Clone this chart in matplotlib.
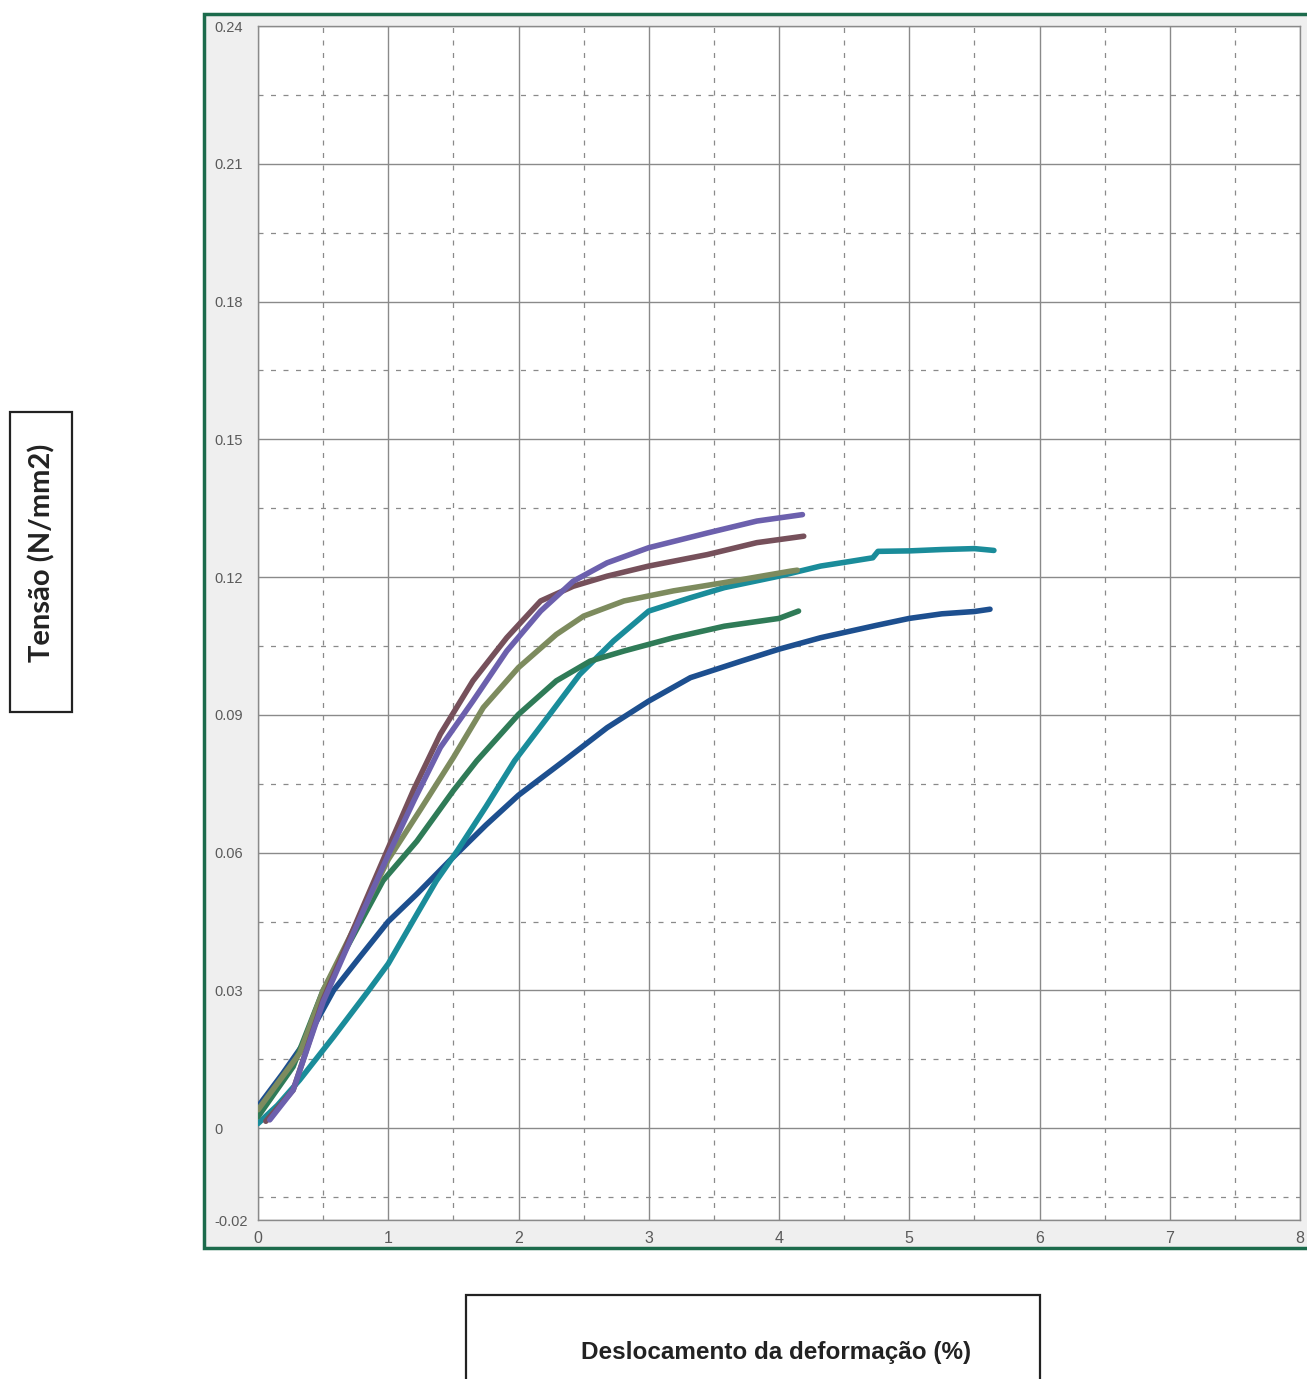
import matplotlib.pyplot as plt
from matplotlib.patches import Rectangle

# deslocamento (%) / tensao (N/mm2)
blue_x = [0.0, 0.19, 0.37, 0.58, 0.78, 1.0, 1.22, 1.47, 1.75, 2.0, 2.35, 2.68, 3.0, 3.32, 3.71, 4.0, 4.32, 4.75, 5.0, 5.25, 5.5, 5.62]
blue_y = [0.0047, 0.0119, 0.0192, 0.030, 0.0372, 0.045, 0.051, 0.0582, 0.066, 0.0725, 0.080, 0.0872, 0.093, 0.0981, 0.1017, 0.1043, 0.1068, 0.1095, 0.111, 0.112, 0.1125, 0.113]

teal_x = [0.0, 0.15, 0.32, 0.58, 0.85, 1.0, 1.22, 1.37, 1.53, 1.75, 1.97, 2.24, 2.47, 2.73, 3.0, 3.32, 3.58, 4.0, 4.32, 4.5, 4.72, 4.76, 5.0, 5.25, 5.5, 5.65]
teal_y = [0.001, 0.005, 0.0105, 0.0199, 0.030, 0.0358, 0.0466, 0.0539, 0.0604, 0.070, 0.080, 0.0901, 0.0988, 0.1061, 0.1126, 0.1155, 0.1177, 0.1202, 0.1224, 0.1232, 0.1242, 0.1256, 0.1257, 0.126, 0.1262, 0.1258]

green_x = [0.0, 0.27, 0.5, 0.71, 0.96, 1.22, 1.5, 1.68, 2.0, 2.29, 2.55, 2.81, 3.19, 3.58, 4.0, 4.15]
green_y = [0.0025, 0.0134, 0.030, 0.0408, 0.0539, 0.0625, 0.0735, 0.080, 0.0901, 0.0974, 0.1017, 0.1039, 0.1068, 0.1093, 0.111, 0.1126]

olive_x = [0.0, 0.32, 0.5, 0.78, 1.0, 1.25, 1.5, 1.73, 2.0, 2.29, 2.5, 2.81, 3.19, 3.58, 4.09, 4.14]
olive_y = [0.004, 0.0163, 0.030, 0.0459, 0.0585, 0.0695, 0.0807, 0.0916, 0.1003, 0.1075, 0.1115, 0.1148, 0.117, 0.1188, 0.1213, 0.1215]

brown_x = [0.06, 0.27, 0.5, 0.78, 1.0, 1.2, 1.4, 1.65, 1.91, 2.17, 2.42, 2.68, 3.0, 3.45, 3.83, 4.19]
brown_y = [0.0015, 0.0083, 0.028, 0.0465, 0.061, 0.074, 0.0858, 0.0974, 0.1068, 0.1148, 0.118, 0.1202, 0.1224, 0.1249, 0.1275, 0.1289]

purple_x = [0.09, 0.27, 0.5, 0.78, 1.0, 1.2, 1.4, 1.65, 1.91, 2.17, 2.42, 2.68, 3.0, 3.45, 3.83, 4.18]
purple_y = [0.0018, 0.0083, 0.0275, 0.0455, 0.0595, 0.0715, 0.0829, 0.093, 0.1039, 0.1126, 0.1191, 0.1231, 0.1264, 0.1296, 0.1322, 0.1336]

y_ticks = [-0.02, 0, 0.03, 0.06, 0.09, 0.12, 0.15, 0.18, 0.21, 0.24]
y_labels = ["-0.02", "0", "0.03", "0.06", "0.09", "0.12", "0.15", "0.18", "0.21", "0.24"]
y_minor = [-0.015, 0.015, 0.045, 0.075, 0.105, 0.135, 0.165, 0.195, 0.225]
x_ticks = [0, 1, 2, 3, 4, 5, 6, 7, 8]
x_minor = [0.5, 1.5, 2.5, 3.5, 4.5, 5.5, 6.5, 7.5]

W, H = 1307, 1379


def box(x0, y0, x1, y1):
    # pixel box -> figure fraction
    return (x0 / W, 1 - y1 / H, (x1 - x0) / W, (y1 - y0) / H)


fig = plt.figure(figsize=(W / 100, H / 100), dpi=100)
fig.patch.set_facecolor('white')

# moldura verde (atras dos eixos)
x0, y0, w, h = box(204, 14, 1312, 1248)
fig.patches.append(Rectangle((x0, y0), w, h, transform=fig.transFigure,
                             facecolor='#efefef', edgecolor='#1c6b4c', linewidth=2.5, zorder=-5))

ax = fig.add_axes(box(258, 26, 1300, 1220))
ax.set_zorder(2)
ax.set_facecolor('white')

series = [
    (blue_x, blue_y, '#1d4f8f'),
    (teal_x, teal_y, '#1a8c9a'),
    (green_x, green_y, '#2f7b57'),
    (olive_x, olive_y, '#7d8b5e'),
    (brown_x, brown_y, '#76505b'),
    (purple_x, purple_y, '#6c60ad'),
]
for xs, ys, c in series:
    ax.plot(xs, ys, color=c, linewidth=4.0, solid_joinstyle='round',
            solid_capstyle='round', zorder=3)

ax.set_xlim(0, 8)
ax.set_ylim(-0.02, 0.24)
ax.set_xticks(x_ticks)
ax.set_xticklabels([str(t) for t in x_ticks])
ax.set_yticks(y_ticks)
ax.set_yticklabels(y_labels)
ax.set_xticks(x_minor, minor=True)
ax.set_yticks(y_minor, minor=True)

ax.grid(which='major', color='#8a8a8a', linewidth=1.0, linestyle='-')
ax.grid(which='minor', color='#8a8a8a', linewidth=0.9, linestyle=(0, (4, 6)))
ax.set_axisbelow(True)

ax.tick_params(which='both', length=0)
ax.tick_params(axis='y', pad=31.5, labelsize=10.5, labelcolor='#5a5a5a')
ax.tick_params(axis='x', pad=8, labelsize=11.5, labelcolor='#5a5a5a')
for lab in ax.get_yticklabels():
    lab.set_horizontalalignment('left')
    lab.set_fontfamily('Liberation Sans')
for lab in ax.get_xticklabels():
    lab.set_fontfamily('Liberation Sans')

for s in ax.spines.values():
    s.set_color('#8a8a8a')
    s.set_linewidth(1.0)

# caixas dos titulos dos eixos
x0, y0, w, h = box(10, 412, 72, 712)
fig.patches.append(Rectangle((x0, y0), w, h, transform=fig.transFigure,
                             facecolor='white', edgecolor='#222222', linewidth=1.6))
fig.text(42 / W, 1 - 553 / H, 'Tensão (N/mm2)', rotation=90, ha='center', va='center',
         fontsize=21, fontweight='bold', family='Lato', color='#222222')

x0, y0, w, h = box(466, 1295, 1040, 1400)
fig.patches.append(Rectangle((x0, y0), w, h, transform=fig.transFigure,
                             facecolor='white', edgecolor='#222222', linewidth=1.6))
fig.text(776 / W, 1 - 1353 / H, 'Deslocamento da deformação (%)', ha='center', va='center',
         fontsize=17.5, fontweight='bold', family='Liberation Sans', color='#222222')

fig.savefig('out.png', dpi=100)
